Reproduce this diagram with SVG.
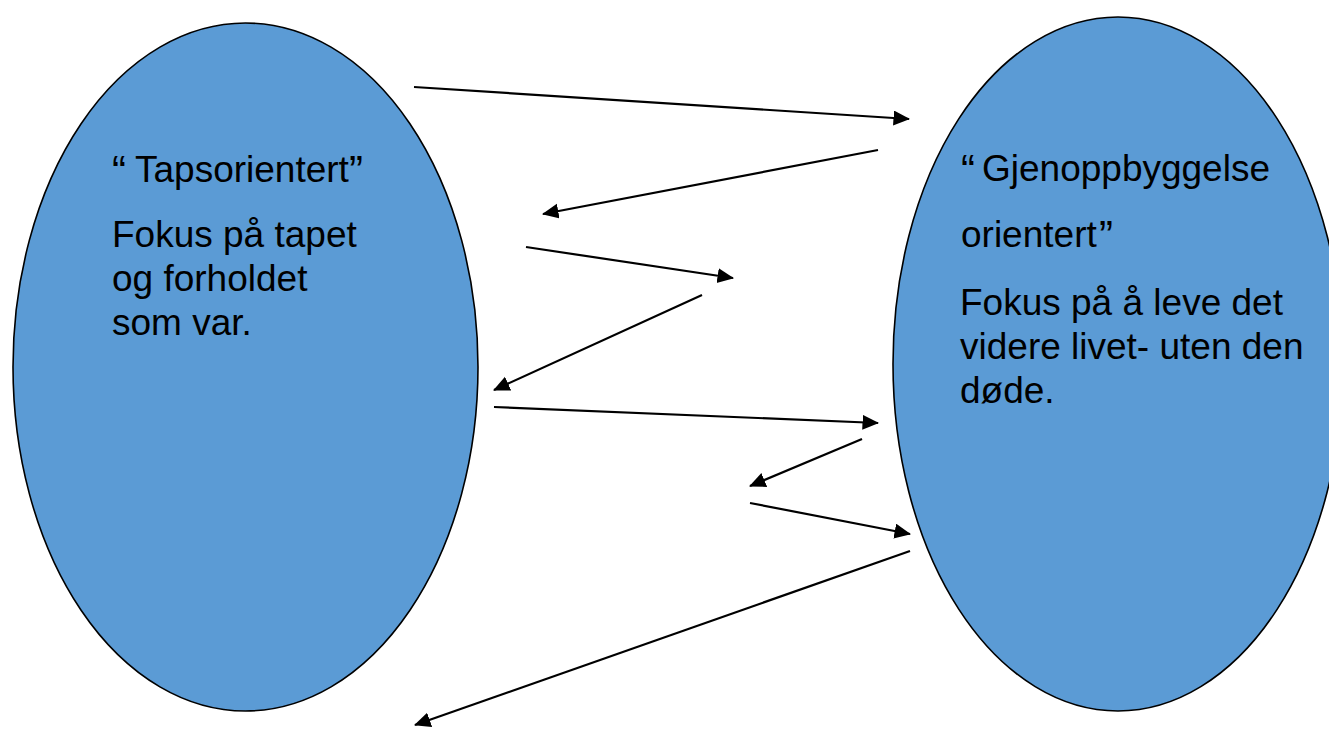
<svg xmlns="http://www.w3.org/2000/svg" width="1329" height="729" viewBox="0 0 1329 729">
<style>
.node{fill:#5B9BD5;stroke:#000;stroke-width:1.6}
.lbl{font-family:"Liberation Sans",Arial,sans-serif;font-size:37px;fill:#000}
.q{font-size:42px}
.conn line{stroke:#000;stroke-width:2.2;marker-end:url(#ah)}
</style>
<defs>
<marker id="ah" markerUnits="userSpaceOnUse" markerWidth="18" markerHeight="16" refX="15.5" refY="7.5" orient="auto">
<path d="M0,0 L16.5,7.5 L0,15 z" fill="#000"/>
</marker>
</defs>
<rect width="1329" height="729" fill="#fff"/>
<g id="node-tap">
<ellipse class="node" cx="245.5" cy="367" rx="232.5" ry="344"/>
<text class="lbl" x="112" y="182"><tspan class="q" dy="3">“</tspan><tspan x="135" dy="-3">Tapsorientert</tspan><tspan class="q" x="349" dy="3">”</tspan></text>
<text class="lbl" x="112" y="247">Fokus på tapet</text>
<text class="lbl" x="112" y="291">og forholdet</text>
<text class="lbl" x="112" y="335">som var.</text>
</g>
<g id="node-gjen">
<ellipse class="node" cx="1118" cy="364" rx="225" ry="347"/>
<text class="lbl" x="961" y="181"><tspan class="q" dy="3">“</tspan><tspan x="982" dy="-3">Gjenoppbyggelse</tspan></text>
<text class="lbl" x="961" y="247"><tspan>orientert</tspan><tspan class="q" x="1099" dy="3">”</tspan></text>
<text class="lbl" x="960" y="315">Fokus på å leve det</text>
<text class="lbl" x="960" y="359">videre livet- uten den</text>
<text class="lbl" x="960" y="403">døde.</text>
</g>
<g id="connectors" class="conn">
<line x1="414" y1="87" x2="909" y2="119"/>
<line x1="878" y1="150" x2="543" y2="214"/>
<line x1="526" y1="247" x2="733" y2="278"/>
<line x1="702" y1="295" x2="494" y2="390"/>
<line x1="494" y1="407" x2="878" y2="423"/>
<line x1="862" y1="439" x2="750" y2="486"/>
<line x1="750" y1="503" x2="910" y2="534"/>
<line x1="910" y1="551" x2="415" y2="725"/>
</g>
</svg>
